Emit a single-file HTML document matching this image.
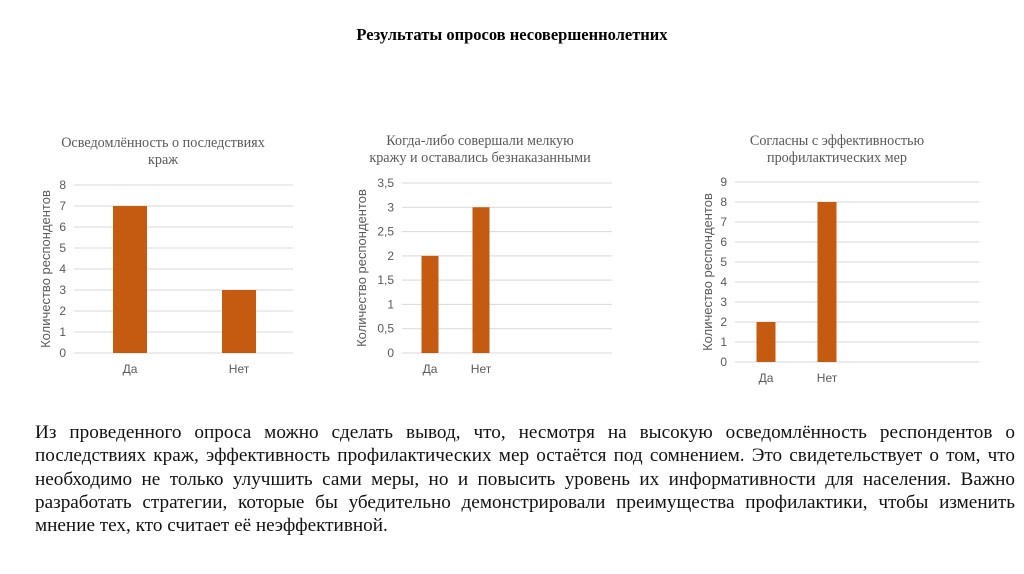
<!DOCTYPE html>
<html><head><meta charset="utf-8">
<style>
body{margin:0;width:1024px;height:574px;background:#fff;position:relative;overflow:hidden;font-family:"Liberation Serif",serif;}
#title{position:absolute;left:0;width:1024px;top:25px;text-align:center;font-weight:bold;font-size:16.5px;color:#000;}
#para{position:absolute;left:35px;width:980px;top:421px;font-size:19.2px;line-height:23.3px;text-align:justify;color:#111;}
svg{position:absolute;left:0;top:0;}
.ct{font-family:"Liberation Serif",serif;font-size:14.2px;fill:#595959;}
.tk{font-family:"Liberation Sans",sans-serif;font-size:12px;fill:#595959;}
.ax{font-family:"Liberation Sans",sans-serif;font-size:13px;fill:#595959;}
</style></head><body>
<div id="title">Результаты опросов несовершеннолетних</div>
<svg id="charts" width="1024" height="574"></svg>
<div id="para">Из проведенного опроса можно сделать вывод, что, несмотря на высокую осведомлённость респондентов о последствиях краж, эффективность профилактических мер остаётся под сомнением. Это свидетельствует о том, что необходимо не только улучшить сами меры, но и повысить уровень их информативности для населения. Важно разработать стратегии, которые бы убедительно демонстрировали преимущества профилактики, чтобы изменить мнение тех, кто считает её неэффективной.</div>
<script>
const categories = ["Да","Нет"];
const values1 = [7,3];
const values2 = [2,3];
const values3 = [2,8];
const ticks1 = ["0","1","2","3","4","5","6","7","8"];
const ticks2 = ["0","0,5","1","1,5","2","2,5","3","3,5"];
const ticks3 = ["0","1","2","3","4","5","6","7","8","9"];
const max1 = 8, max2 = 3.5, max3 = 9;
const step1 = 1, step2 = 0.5, step3 = 1;

const NS="http://www.w3.org/2000/svg";
const svg=document.getElementById('charts');
function mk(tag,attrs,text){const e=document.createElementNS(NS,tag);for(const k in attrs)e.setAttribute(k,attrs[k]);if(text!==undefined)e.textContent=text;svg.appendChild(e);return e;}

function chart(cfg,cats,vals,ticks,max,step){
  const y=v=>cfg.y0-(v/max)*(cfg.y0-cfg.yTop);
  cfg.title.forEach((t,i)=>{
    const e=mk('text',{x:cfg.tx,y:cfg.ty+i*17,'text-anchor':'middle',class:'ct'},t);
    
    
  });
  ticks.forEach((t,i)=>{
    const v=i*step;
    const l=mk('line',{x1:cfg.x0,x2:cfg.x1,y1:y(v),y2:y(v),stroke:'#d9d9d9','stroke-width':1});
    
    
    const e=mk('text',{x:cfg.x0-8,y:y(v)+4,'text-anchor':'end',class:'tk'},t);
    
    
  });
  const a=mk('text',{x:0,y:0,'text-anchor':'middle',class:'ax',transform:`translate(${cfg.axX},${(cfg.y0+cfg.yTop)/2}) rotate(-90)`},'Количество респондентов');
  
  
  cats.forEach((c,i)=>{
    const cx=cfg.c[i];
    const r=mk('rect',{x:cx-cfg.bw/2,y:y(vals[i]),width:cfg.bw,height:cfg.y0-y(vals[i]),fill:'#c55a11'});
    
    
    const e=mk('text',{x:cx,y:cfg.y0+20,'text-anchor':'middle',class:'tk'},c);
    
    
  });
}
chart({x0:74,x1:293,y0:353,yTop:185,c:[130,239],bw:34,tx:163,ty:147,axX:50,title:["Осведомлённость о последствиях","краж"]},categories,values1,ticks1,max1,step1);
chart({x0:402,x1:612,y0:353,yTop:183,c:[430,481],bw:17,tx:480,ty:145,axX:366,title:["Когда-либо совершали мелкую","кражу и оставались безнаказанными"]},categories,values2,ticks2,max2,step2);
chart({x0:735,x1:979,y0:362,yTop:182,c:[766,827],bw:19,tx:837,ty:145,axX:712,title:["Согласны с эффективностью","профилактических мер"]},categories,values3,ticks3,max3,step3);
</script>
</body></html>
